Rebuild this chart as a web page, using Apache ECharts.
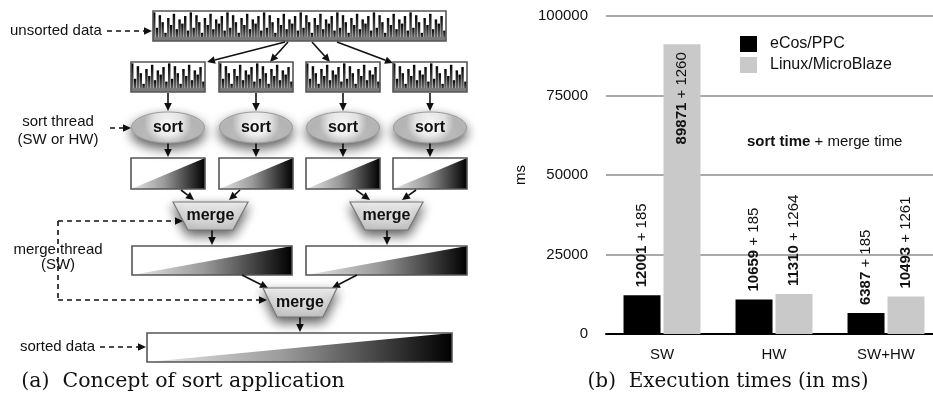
<!DOCTYPE html>
<html>
<head>
<meta charset="utf-8">
<script src="https://cdn.jsdelivr.net/npm/echarts@6/dist/echarts.min.js"></script>
<style>html,body{margin:0;padding:0;background:#fff;}#c{width:933px;height:398px;}</style>
</head>
<body>
<div id="c"></div>
<script>
// ---- chart data ----
const categories = ['SW', 'HW', 'SW+HW'];
const ecosSort = [12001, 10659, 6387];
const ecosMerge = [185, 185, 185];
const linuxSort = [89871, 11310, 10493];
const linuxMerge = [1260, 1264, 1261];
const yTicks = [0, 25000, 50000, 75000, 100000];
const seriesNames = ['eCos/PPC', 'Linux/MicroBlaze'];
// decorative unsorted pattern (bar heights as fraction of box) for one unit
const unitPattern = [0.95, 0.4, 0.85, 0.6, 0.22, 0.75, 0.5, 0.9, 0.35, 0.7, 0.55, 0.82, 0.3];

const SANS = 'Liberation Sans, Arial, Helvetica, sans-serif';
const SERIF = 'DejaVu Serif, serif';
const chart = echarts.init(document.getElementById('c'));
const els = [];

function arrow(x1, y1, x2, y2, dashed) {
  const a = Math.atan2(y2 - y1, x2 - x1);
  const L = 8, W = 3.8;
  const bx = x2 - L * Math.cos(a), by = y2 - L * Math.sin(a);
  els.push({type: 'line', shape: {x1: x1, y1: y1, x2: bx, y2: by},
    style: {stroke: '#111', lineWidth: 1.6, lineDash: dashed ? [5, 4] : null}});
  els.push({type: 'polygon', shape: {points: [[x2, y2], [bx + W * Math.sin(a), by - W * Math.cos(a)], [bx - W * Math.sin(a), by + W * Math.cos(a)]]},
    style: {fill: '#111'}});
}
function dline(x1, y1, x2, y2) {
  els.push({type: 'line', shape: {x1: x1, y1: y1, x2: x2, y2: y2}, style: {stroke: '#111', lineWidth: 1.6, lineDash: [5, 4]}});
}
function label(text, x, y, align) {
  els.push({type: 'text', x: x, y: y, style: {text: text, fontFamily: SANS, fontSize: 15, fill: '#111', align: align || 'center', verticalAlign: 'middle'}});
}
function unsortedBox(x, y, w, h, units) {
  els.push({type: 'rect', shape: {x: x, y: y, width: w, height: h}, style: {fill: '#fff'}});
  const n = units * unitPattern.length;
  const bw = w / n;
  for (let i = 0; i < n; i++) {
    const f = unitPattern[i % unitPattern.length];
    const bh = (h - 2) * f + 2;
    els.push({type: 'rect', shape: {x: x + i * bw, y: y + h - bh, width: bw * 0.86, height: bh},
      style: {fill: {type: 'linear', x: 0, y: 0, x2: 0, y2: 1, colorStops: [{offset: 0, color: '#000'}, {offset: 1, color: '#858585'}]}}});
  }
  els.push({type: 'rect', shape: {x: x, y: y + h - 4, width: w, height: 4}, style: {fill: '#7a7a7a'}});
  els.push({type: 'rect', shape: {x: x, y: y, width: w, height: h}, style: {fill: null, stroke: '#555', lineWidth: 1.6}});
}
function sortedBox(x, y, w, h) {
  els.push({type: 'rect', shape: {x: x, y: y, width: w, height: h}, style: {fill: '#fff'}});
  els.push({type: 'polygon', shape: {points: [[x, y + h], [x + w, y], [x + w, y + h]]},
    style: {fill: {type: 'linear', x: 0, y: 0, x2: 1, y2: 0, colorStops: [{offset: 0, color: '#e8e8e8'}, {offset: 0.45, color: '#9a9a9a'}, {offset: 1, color: '#000'}]}}});
  els.push({type: 'rect', shape: {x: x, y: y, width: w, height: h}, style: {fill: null, stroke: '#555', lineWidth: 1.6}});
}
function sortNode(cx, cy) {
  els.push({type: 'ellipse', shape: {cx: cx, cy: cy, rx: 36.5, ry: 15.5},
    style: {fill: {type: 'radial', x: 0.5, y: 0.3, r: 0.75, colorStops: [{offset: 0, color: '#ffffff'}, {offset: 0.6, color: '#ececec'}, {offset: 1, color: '#bcbcbc'}]},
      stroke: '#999', lineWidth: 1, shadowBlur: 12, shadowOffsetY: 5, shadowColor: 'rgba(0,0,0,0.65)'}});
  els.push({type: 'text', x: cx, y: cy, style: {text: 'sort', fontFamily: SANS, fontWeight: 'bold', fontSize: 16, fill: '#111', align: 'center', verticalAlign: 'middle'}});
}
function mergeNode(xl, xr, yt, inset, h) {
  els.push({type: 'polygon', shape: {points: [[xl, yt], [xr, yt], [xr - inset, yt + h], [xl + inset, yt + h]]},
    style: {fill: {type: 'linear', x: 0, y: 0, x2: 0, y2: 1, colorStops: [{offset: 0, color: '#f6f6f6'}, {offset: 1, color: '#c4c4c4'}]},
      stroke: '#777', lineWidth: 1.2, shadowBlur: 12, shadowOffsetY: 5, shadowColor: 'rgba(0,0,0,0.65)'}});
  els.push({type: 'text', x: (xl + xr) / 2, y: yt + h / 2, style: {text: 'merge', fontFamily: SANS, fontWeight: 'bold', fontSize: 16, fill: '#111', align: 'center', verticalAlign: 'middle'}});
}

// ---- diagram (a) ----
const cols = [168, 256, 343, 430];
label('unsorted data', 10, 31, 'left');
arrow(107, 31, 152, 31, true);
unsortedBox(153, 11, 293, 30, 8);
arrow(285, 42, 207, 62); arrow(288, 42, 270, 62); arrow(312, 42, 330, 62); arrow(337, 42, 393, 63);
cols.forEach(c => unsortedBox(c - 37, 62, 74, 30, 2));
cols.forEach(c => arrow(c, 93, c, 111));
label('sort thread', 58, 122); label('(SW or HW)', 58, 140);
arrow(110, 128, 131, 128, true);
cols.forEach(c => arrow(c, 143, c, 157));
cols.forEach(c => sortedBox(c - 37, 158, 74, 31));
arrow(181, 190, 194, 200); arrow(240, 190, 229, 200); arrow(356, 190, 370, 200); arrow(416, 190, 402, 200);
arrow(212, 230, 212, 245); arrow(387, 230, 387, 245);
sortedBox(132, 246, 160, 29); sortedBox(306, 246, 161, 29);
arrow(242, 275, 268, 288); arrow(357, 275, 332, 288);
arrow(300, 317, 300, 332);
sortedBox(147, 333, 305, 29);
label('merge thread', 58, 250); label('(SW)', 58, 265);
dline(58, 221, 58, 300);
arrow(58, 221, 183, 221, true);
arrow(58, 300, 267, 300, true);
label('sorted data', 20, 347, 'left');
arrow(100, 347, 146, 347, true);
cols.forEach(c => sortNode(c, 127.5));
mergeNode(173, 248, 202, 15, 28);
mergeNode(350, 423, 202, 15, 28);
mergeNode(263, 337, 288, 14, 29);

// captions & annotation
els.push({type: 'text', x: 183, y: 382, style: {text: '(a)  Concept of sort application', fontFamily: SERIF, fontSize: 20.5, fill: '#111', align: 'center', verticalAlign: 'middle'}});
els.push({type: 'text', x: 728, y: 382, style: {text: '(b)  Execution times (in ms)', fontFamily: SERIF, fontSize: 20, fill: '#111', align: 'center', verticalAlign: 'middle'}});
els.push({type: 'text', x: 747, y: 142, style: {text: '{b|sort time} + merge time', fontFamily: SANS, fontSize: 15, fill: '#111', verticalAlign: 'middle',
  rich: {b: {fontFamily: SANS, fontSize: 15, fontWeight: 'bold', fill: '#111'}}}});

function mkLabel(sorts, merges) {
  return function (p) { return '{b|' + sorts[p.dataIndex] + '} + ' + merges[p.dataIndex]; };
}
const labelBase = {show: true, rotate: 90, position: 'top', distance: 8, align: 'left', verticalAlign: 'middle',
  fontFamily: SANS, fontSize: 15, color: '#111', rich: {b: {fontFamily: SANS, fontSize: 15, fontWeight: 'bold', color: '#111'}}};

const ecosData = ecosSort.map((v, i) => v + ecosMerge[i]);
const linuxData = linuxSort.map((v, i) => {
  const item = {value: v + linuxMerge[i]};
  if (i === 0) item.label = {position: 'insideTop', align: 'right', distance: 8};
  return item;
});

chart.setOption({
  animation: false,
  textStyle: {fontFamily: SANS},
  grid: {left: 606, width: 336, top: 16, bottom: 64, containLabel: false, outerBoundsMode: 'none'},
  legend: {data: seriesNames, orient: 'vertical', left: 740, top: 36, padding: 0, itemWidth: 17, itemHeight: 16, itemGap: 5, icon: 'rect',
    textStyle: {fontFamily: SANS, fontSize: 16, color: '#111', padding: [0, 0, 0, 8]}},
  xAxis: {type: 'category', data: categories, axisTick: {show: false}, axisLine: {lineStyle: {color: '#000', width: 2}},
    axisLabel: {fontSize: 15, color: '#111', margin: 13}},
  yAxis: {type: 'value', min: yTicks[0], max: yTicks[yTicks.length - 1], interval: yTicks[1] - yTicks[0],
    name: 'ms', nameLocation: 'middle', nameGap: 78, nameRotate: 90, nameTextStyle: {fontSize: 15, color: '#111'},
    axisLine: {show: false}, axisTick: {show: false}, axisLabel: {fontSize: 15, color: '#111', margin: 18, formatter: v => String(v)},
    splitLine: {lineStyle: {color: '#8c8c8c', width: 1.5}}},
  graphic: {elements: els},
  series: [
    {type: 'bar', name: seriesNames[0], data: ecosData, barWidth: 37, barGap: '8%', itemStyle: {color: '#000'},
      label: Object.assign({}, labelBase, {formatter: mkLabel(ecosSort, ecosMerge)})},
    {type: 'bar', name: seriesNames[1], data: linuxData, barWidth: 37, barGap: '8%', itemStyle: {color: '#c9c9c9'},
      label: Object.assign({}, labelBase, {formatter: mkLabel(linuxSort, linuxMerge)})}
  ]
});
</script>
</body>
</html>
